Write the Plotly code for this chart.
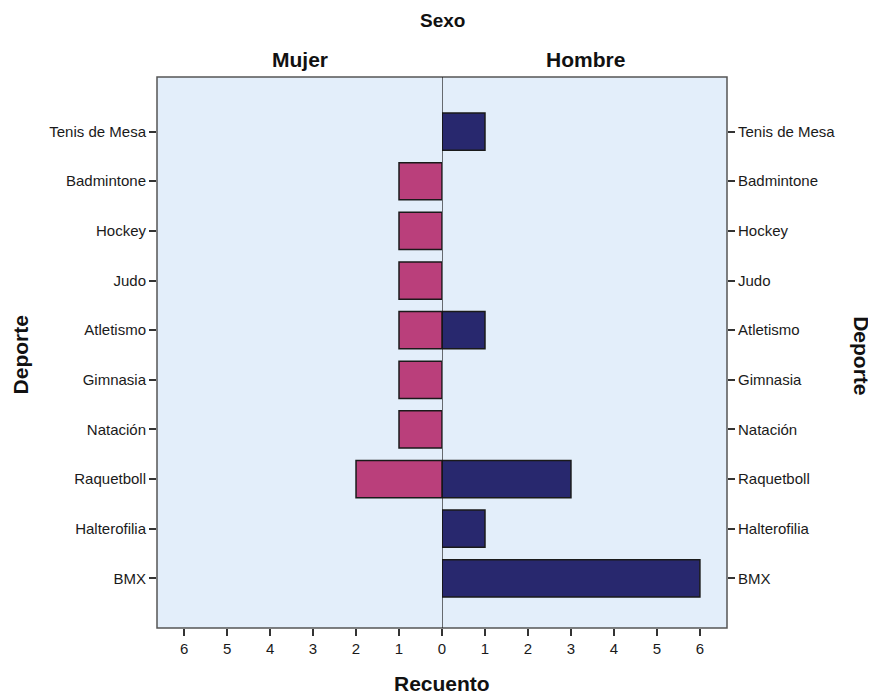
import plotly.graph_objects as go

# Data (bottom to top)
deportes = ["BMX", "Halterofilia", "Raquetboll", "Natación", "Gimnasia",
            "Atletismo", "Judo", "Hockey", "Badmintone", "Tenis de Mesa"]
mujer = [0, 0, 2, 1, 1, 1, 1, 1, 1, 0]
hombre = [6, 1, 3, 0, 0, 1, 0, 0, 0, 1]
ticks_recuento = [0, 1, 2, 3, 4, 5, 6]

col_mujer = "#BA3F7B"
col_hombre = "#28286E"
bg = "#E3EEFA"
font_fam = "Liberation Sans, Arial, sans-serif"

fig = go.Figure()
fig.add_trace(go.Bar(
    y=deportes, x=[v if v else None for v in mujer], orientation="h",
    xaxis="x", yaxis="y", width=0.75,
    marker=dict(color=col_mujer, line=dict(color="#1a1a1a", width=1.5)),
    showlegend=False, name="Mujer"))
fig.add_trace(go.Bar(
    y=deportes, x=[v if v else None for v in hombre], orientation="h",
    xaxis="x2", yaxis="y2", width=0.75,
    marker=dict(color=col_hombre, line=dict(color="#1a1a1a", width=1.5)),
    showlegend=False, name="Hombre"))

axis_common = dict(showgrid=False, zeroline=False, ticks="outside", ticklen=7,
                   tickwidth=1.5, tickcolor="#333",
                   tickfont=dict(family=font_fam, size=15, color="#1a1a1a"))

def ann(text, x, y, size, angle=0):
    return dict(text=f"<b>{text}</b>", xref="paper", yref="paper", x=x, y=y,
                xanchor="center", yanchor="middle", textangle=angle,
                showarrow=False, font=dict(family=font_fam, size=size, color="#111"))

fig.update_layout(
    width=868, height=688,
    margin=dict(l=149, r=149, t=69, b=68),
    paper_bgcolor="white", plot_bgcolor=bg,
    xaxis=dict(domain=[0, 0.5], range=[6.63, 0], tickvals=ticks_recuento[1:],
               anchor="y", **axis_common),
    xaxis2=dict(domain=[0.5, 1], range=[0, 6.63], tickvals=ticks_recuento,
                anchor="y2", **axis_common),
    yaxis=dict(anchor="x", side="left", type="category",
               categoryorder="array", categoryarray=deportes,
               range=[-1.0, 10.1], **axis_common),
    yaxis2=dict(anchor="x2", side="right", type="category", matches="y",
                categoryorder="array", categoryarray=deportes,
                **axis_common),
    shapes=[
        dict(type="rect", xref="paper", yref="paper", x0=0, x1=1, y0=0, y1=1,
             line=dict(color="#555", width=1.5), layer="above"),
        dict(type="line", xref="x2", yref="paper", x0=0, x1=0, y0=0, y1=1,
             line=dict(color="#111", width=1.2), layer="above"),
    ],
    annotations=[
        ann("Sexo", 0.5, 1.103, 19),
        ann("Mujer", 0.251, 1.031, 21),
        ann("Hombre", 0.751, 1.031, 21),
        ann("Recuento", 0.5, -0.1, 21),
        ann("Deporte", -0.240, 0.495, 21, -90),
        ann("Deporte", 1.237, 0.495, 21, 90),
    ],
)

fig.write_html("out.html")
